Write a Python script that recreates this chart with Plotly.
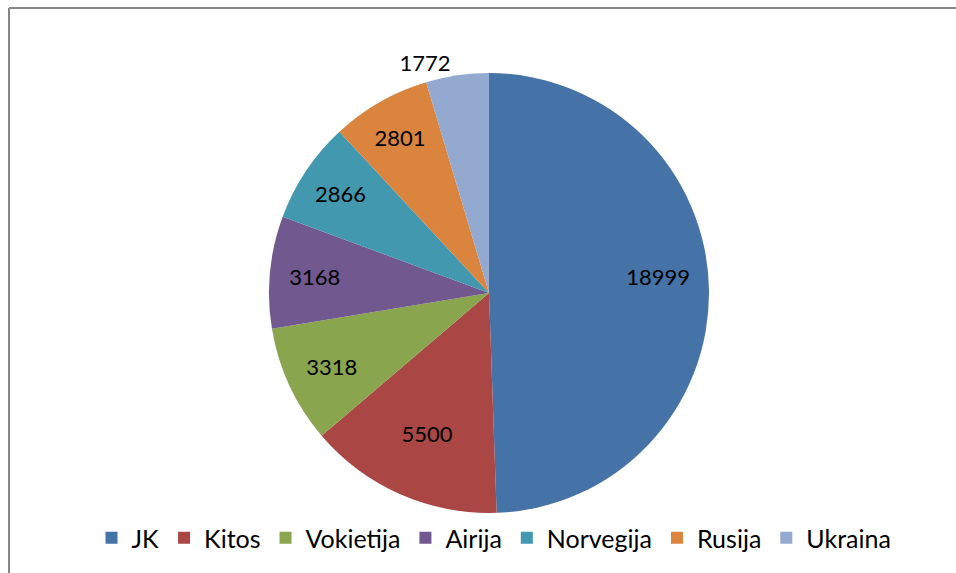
import plotly.graph_objects as go

countries = ["JK", "Kitos", "Vokietija", "Airija", "Norvegija", "Rusija", "Ukraina"]
values = [18999, 5500, 3318, 3168, 2866, 2801, 1772]
colors = ["#4572A7", "#AA4643", "#89A54E", "#71588F", "#4198AF", "#DB843D", "#93A9CF"]
label_pos = ["inside", "inside", "inside", "inside", "inside", "inside", "outside"]

W, H = 956, 573
cx, cy, r = 489, 293, 220

# nudge the big slice's label toward the rim, like the original
pad = "\u00a0" * 21
labels_txt = [f"{v}" for v in values]
labels_txt[0] = pad + labels_txt[0] + "<br>\u00a0"

fig = go.Figure(go.Pie(
    labels=countries,
    values=values,
    sort=False,
    direction="clockwise",
    rotation=0,
    marker=dict(colors=colors, line=dict(width=0)),
    text=labels_txt,
    textinfo="text",
    textposition=label_pos,
    insidetextorientation="horizontal",
    textfont=dict(size=22, color="black", family="Lato, Open Sans, sans-serif"),
    domain=dict(x=[(cx - r) / W, (cx + r) / W], y=[1 - (cy + r) / H, 1 - (cy - r) / H]),
    hoverinfo="label+value+percent",
))

fig.update_layout(
    width=W, height=H,
    margin=dict(l=0, r=0, t=0, b=0),
    paper_bgcolor="white",
    font=dict(family="Lato, Open Sans, sans-serif", size=22, color="black"),
    showlegend=True,
    legend=dict(
        orientation="h", x=494 / W, xanchor="center", y=1 - 538 / H, yanchor="middle",
        font=dict(size=25), itemwidth=30, tracegroupgap=0,
    ),
    shapes=[
        dict(type="line", xref="paper", yref="paper", x0=9 / W, x1=1, y0=1 - 8 / H, y1=1 - 8 / H,
             line=dict(color="#868686", width=2)),
        dict(type="line", xref="paper", yref="paper", x0=9 / W, x1=9 / W, y0=0, y1=1 - 8 / H,
             line=dict(color="#868686", width=2)),
    ],
)

fig.write_html(
    "out.html",
    config={"displayModeBar": False},
    post_script="document.body.style.margin='0';document.body.style.overflow='hidden';",
)
